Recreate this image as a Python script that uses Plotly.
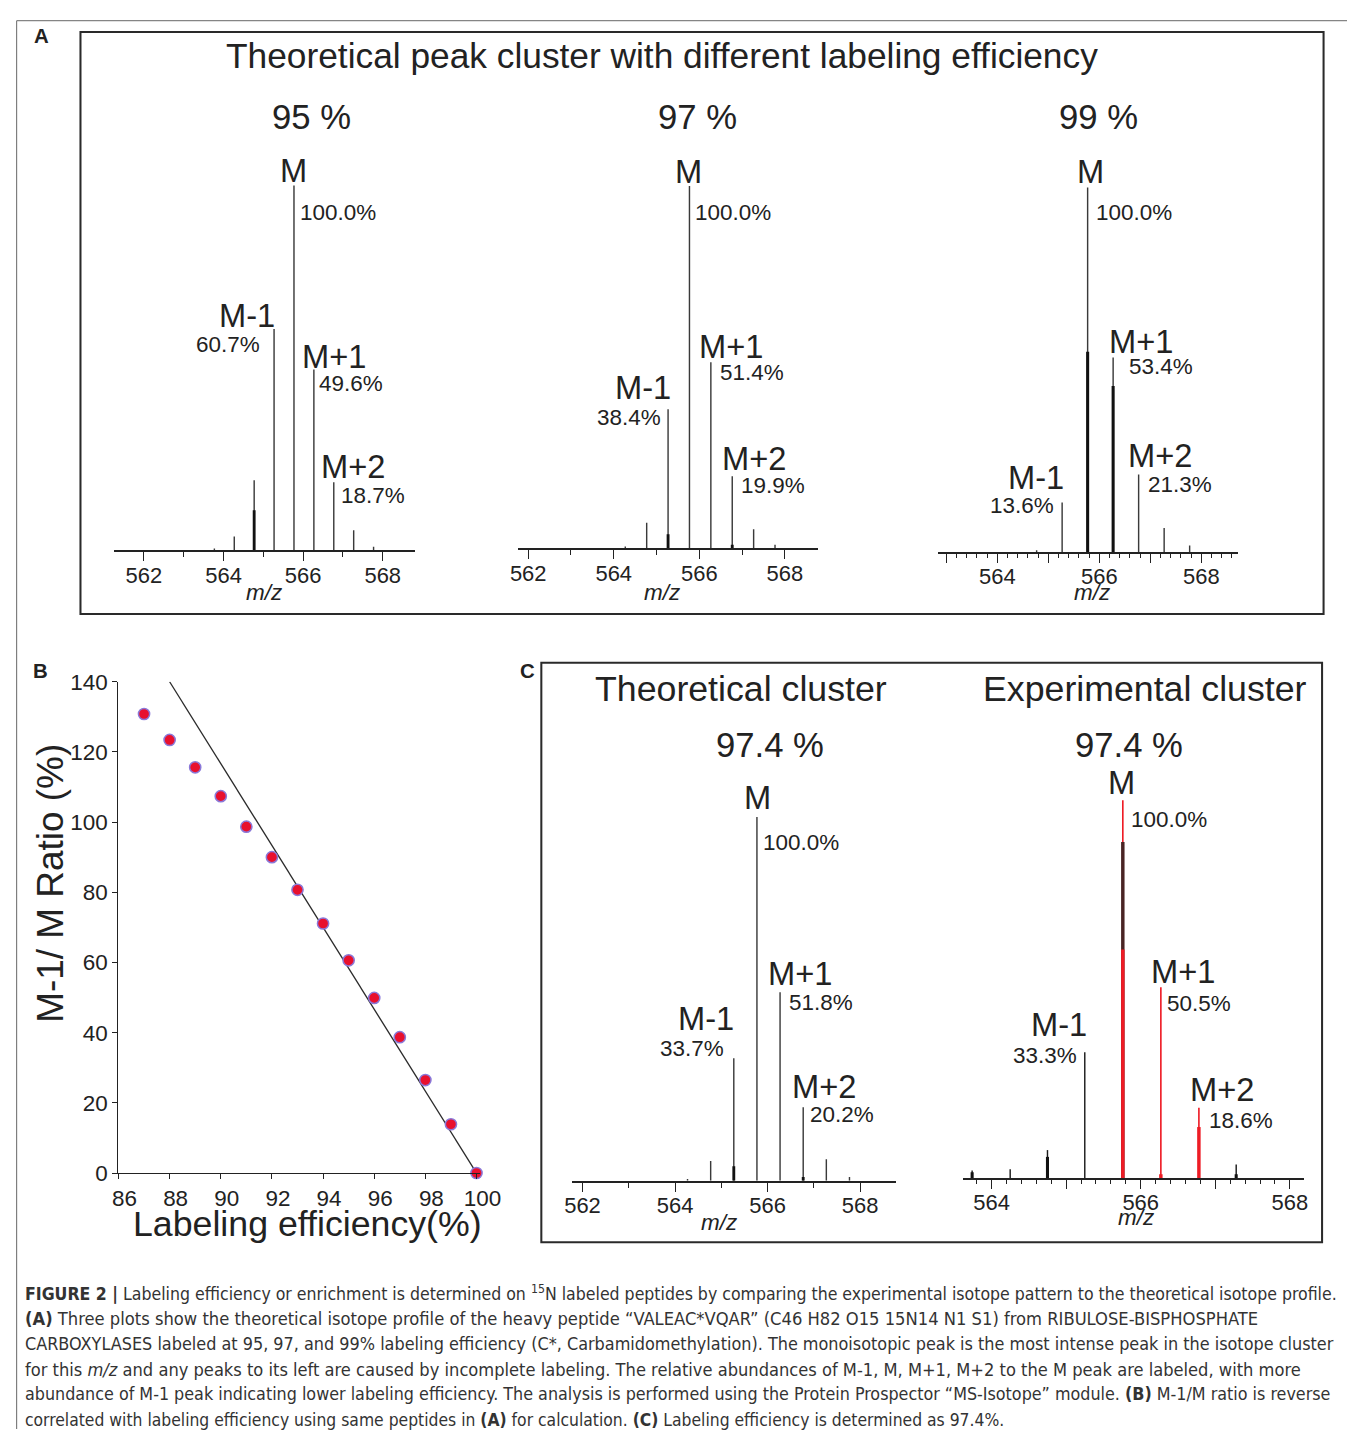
import plotly.graph_objects as go

# Mapping from reference-picture pixels to figure pixels, calibrated from earlier renders
# (the photographed page is slightly reduced and offset).
X_SCALE, X_OFF = 0.979, 15.5
Y_SCALE, Y_OFF = 0.98, 21.0
K = 1 / 0.98
W, H = 1360, 1434
FONT = "Liberation Sans, Arial, Helvetica, sans-serif"
CAP_FONT = "Liberation Sans Narrow, DejaVu Sans Condensed, Liberation Sans, sans-serif"
TXT = "#222222"
STICK = "#3a3a3a"
RED = "#ee1c25"


def px(x):
    return max(0.0, min(1.0, ((x - X_OFF) / X_SCALE) / W))


def py(y):
    return max(0.0, min(1.0, 1 - ((y - Y_OFF) / Y_SCALE) / H))


def fs(size):
    return round(size * K, 2)


# ---------------- DATA ----------------
# Panel A: theoretical isotope clusters (relative intensity, % of M)
a95_mz = [563.77, 564.27, 564.77, 565.27, 565.77, 566.27, 566.77, 567.27, 567.77]
a95_int = [0.5, 3.8, 19.2, 60.7, 100.0, 49.6, 18.7, 5.5, 1.0]
a95_thick_mz = [564.77]
a95_thick_int = [11.0]

a97_mz = [564.27, 564.77, 565.27, 565.77, 566.27, 566.77, 567.27, 567.77]
a97_int = [0.5, 7.1, 38.4, 100.0, 51.4, 19.9, 5.3, 1.0]
a97_thick_mz = [565.27, 566.77]
a97_thick_int = [3.9, 1.0]

a99_mz = [564.77, 565.27, 565.77, 566.27, 566.77, 567.27, 567.77]
a99_int = [0.5, 13.6, 100.0, 53.4, 21.3, 6.6, 1.8]
a99_thick_mz = [565.77, 566.27]
a99_thick_int = [55.0, 45.6]

peak_names = ["M-1", "M", "M+1", "M+2"]
label_mz = [565.27, 565.77, 566.27, 566.77]
a95_labels = [60.7, 100.0, 49.6, 18.7]
a97_labels = [38.4, 100.0, 51.4, 19.9]
a99_labels = [13.6, 100.0, 53.4, 21.3]
efficiency_titles = ["95 %", "97 %", "99 %"]

# Panel B: M-1/M ratio vs labeling efficiency
eff = [87, 88, 89, 90, 91, 92, 93, 94, 95, 96, 97, 98, 99, 100]
ratio = [130.8, 123.4, 115.6, 107.4, 98.7, 90.0, 80.7, 71.1, 60.6, 49.9, 38.7, 26.5, 13.9, 0.0]
fit_x = [88, 100]
fit_y = [140, 0]

# Panel C: theoretical vs experimental cluster at 97.4 %
c_th_mz = [564.27, 564.77, 565.27, 565.77, 566.27, 566.77, 567.27, 567.77]
c_th_int = [0.5, 5.4, 33.7, 100.0, 51.8, 20.2, 5.9, 1.0]
c_th_thick_mz = [565.27, 566.77]
c_th_thick_int = [4.0, 1.0]
c_th_labels = [33.7, 100.0, 51.8, 20.2]

c_exp_black_mz = [563.74, 564.25, 564.75, 565.25, 567.28]
c_exp_black_int = [2.0, 2.3, 7.4, 33.3, 3.6]
c_exp_black_thick_mz = [563.74, 564.75, 567.28]
c_exp_black_thick_int = [1.5, 5.6, 1.0]
c_exp_red_mz = [565.76, 566.27, 566.78]
c_exp_red_int = [100.0, 50.5, 18.6]
c_exp_dark_thick_mz = [565.76]
c_exp_dark_thick_int = [89.0]
c_exp_red_thick_mz = [565.76, 566.27, 566.78]
c_exp_red_thick_int = [60.5, 1.0, 13.5]
c_exp_label_mz = [565.25, 565.76, 566.27, 566.78]
c_exp_labels = [33.3, 100.0, 50.5, 18.6]

# ---------------- STYLE / POSITIONS ----------------
# (name dx, name dy), (pct dx, pct dy) in px relative to peak top (dy>0 = below)
LABEL_OFFSETS = {
    "A95": {"M-1": ((3, -13.5), (-12, 15)), "M": ((0, -15), (4, 26.6)),
            "M+1": ((-14, -13), (3, 13.4)), "M+2": ((-14.6, -15), (5.4, 13.3))},
    "A97": {"M-1": ((4.4, -21.7), (-5, 7.6)), "M": ((-1, -14.7), (3.4, 26)),
            "M+1": ((-13.7, -15.2), (7.3, 10.3)), "M+2": ((-11.7, -17.3), (6.6, 9.4))},
    "A99": {"M-1": ((3.4, -24.3), (-6, 3.2)), "M": ((2.6, -15.3), (6.3, 24)),
            "M+1": ((-6, -15.7), (14, 9)), "M+2": ((-12.7, -18.2), (7.3, 10.2))},
    "C_th": {"M-1": ((2.4, -39), (-7.6, -9.2)), "M": ((0.6, -19), (4, 24.7)),
             "M+1": ((-14, -18.7), (6.6, 10.3)), "M+2": ((-13.3, -20), (4.3, 7.5))},
    "C_exp": {"M-1": ((4, -27.4), (-5.3, 3)), "M": ((-1, -17.6), (5.6, 19)),
              "M+1": ((-11.4, -15.8), (4.3, 15.5)), "M+2": ((-10.7, -18.4), (7.7, 12.5))},
}

fig = go.Figure()
annotations = []
shapes = []


def sticks(mz, inten):
    xs, ys = [], []
    for m, h in zip(mz, inten):
        xs += [m, m, None]
        ys += [0, h, None]
    return xs, ys


def add_sticks(mz, inten, ax, color, width):
    xs, ys = sticks(mz, inten)
    fig.add_trace(go.Scatter(x=xs, y=ys, mode="lines", xaxis="x" + ax, yaxis="y" + ax,
                             line=dict(color=color, width=width * K), hoverinfo="skip",
                             showlegend=False, cliponaxis=False))


def add_peak_labels(ax, mzs, vals, key):
    offs = LABEL_OFFSETS[key]
    for mz, name, v in zip(mzs, peak_names, vals):
        (ndx, ndy), (pdx, pdy) = offs[name]
        na = "center" if name == "M" else ("right" if name == "M-1" else "left")
        pa = "right" if name == "M-1" else "left"
        annotations.append(dict(x=mz, y=v, xref="x" + ax, yref="y" + ax, text=name,
                                showarrow=False, xanchor=na, yanchor="middle",
                                xshift=ndx * K, yshift=-ndy * K,
                                font=dict(family=FONT, size=fs(32), color=TXT)))
        annotations.append(dict(x=mz, y=v, xref="x" + ax, yref="y" + ax, text=f"{v:.1f}%",
                                showarrow=False, xanchor=pa, yanchor="middle",
                                xshift=pdx * K, yshift=-pdy * K,
                                font=dict(family=FONT, size=fs(22), color=TXT)))


def text(xp, yp, s, size, bold=False, anchor="center", angle=0, family=FONT, color=TXT):
    annotations.append(dict(x=px(xp), y=py(yp), xref="paper", yref="paper",
                            text=f"<b>{s}</b>" if bold else s, showarrow=False,
                            xanchor=anchor, yanchor="middle", textangle=angle,
                            font=dict(family=family, size=fs(size), color=color)))


def spec_xaxis(x0, x1, rng, tickvals, ticktext, minor_vals, minor_len):
    return dict(domain=[px(x0), px(x1)], range=rng, showline=True, linecolor=TXT,
                linewidth=1.6 * K, ticks="outside", ticklen=9 * K, tickwidth=1.4 * K,
                tickcolor=TXT, tickmode="array", tickvals=tickvals, ticktext=ticktext,
                ticklabelstandoff=-5,
                tickfont=dict(family=FONT, size=fs(21.5), color=TXT), showgrid=False,
                zeroline=False, fixedrange=True,
                minor=dict(tickvals=minor_vals, ticks="outside", ticklen=minor_len * K,
                           tickwidth=1.2 * K, tickcolor=TXT, showgrid=False))


def spec_yaxis(ax, yb, yt):
    return dict(domain=[py(yb), py(yt)], range=[0, 105], visible=False,
                fixedrange=True, anchor="x" + ax)


even_vals = [562, 564, 566, 568]
even_text = ["562", "564", "566", "568"]
odd_vals = [563, 565, 567]
fine_A3 = [round(563 + 0.2 * i, 1) for i in range(29) if (i % 5) != 0]
fine_C2 = [round(563.6 + 0.2 * i, 1) for i in range(23) if round(563.6 + 0.2 * i, 1) % 1 != 0]

layout_axes = {}
# A1
layout_axes["xaxis"] = spec_xaxis(114, 415, [561.26, 568.82], even_vals, even_text, odd_vals, 5)
layout_axes["yaxis"] = spec_yaxis("", 550, 168)
# A2
layout_axes["xaxis2"] = spec_xaxis(518, 818, [561.77, 568.78], even_vals, even_text, odd_vals, 5)
layout_axes["yaxis2"] = spec_yaxis("2", 548, 168.6)
# A3
layout_axes["xaxis3"] = spec_xaxis(938, 1238, [562.84, 568.72],
                                   [563, 564, 565, 566, 567, 568],
                                   [" ", "564", " ", "566", " ", "568"], fine_A3, 4)
layout_axes["yaxis3"] = spec_yaxis("3", 551.7, 170)
# C1
layout_axes["xaxis5"] = spec_xaxis(572, 896, [561.78, 568.78], even_vals, even_text, odd_vals, 5)
layout_axes["yaxis5"] = spec_yaxis("5", 1178.7, 797.9)
# C2
layout_axes["xaxis6"] = spec_xaxis(963, 1304, [563.62, 568.19],
                                   [564, 565, 566, 567, 568],
                                   ["564", " ", "566", " ", "568"], fine_C2, 4)
layout_axes["yaxis6"] = spec_yaxis("6", 1176, 780.5)
for k in ["xaxis", "xaxis2", "xaxis3", "xaxis5", "xaxis6"]:
    suffix = k.replace("xaxis", "")
    layout_axes[k]["anchor"] = "y" + suffix

# B
layout_axes["xaxis4"] = dict(domain=[px(118), px(480)], range=[86, 100.15], anchor="y4",
                             showline=True, linecolor=TXT, linewidth=1.4 * K, ticks="outside",
                             ticklen=5 * K, tickcolor=TXT, dtick=2, tick0=86,
                             ticklabelshift=6,
                             tickfont=dict(family=FONT, size=fs(22), color=TXT),
                             showgrid=False, zeroline=False, fixedrange=True)
layout_axes["yaxis4"] = dict(domain=[py(1171), py(681)], range=[0, 140], anchor="x4",
                             showline=True, linecolor=TXT, linewidth=1.4 * K, ticks="outside",
                             ticklen=5 * K, tickcolor=TXT, dtick=20,
                             tickfont=dict(family=FONT, size=fs(22), color=TXT),
                             showgrid=False, zeroline=False, fixedrange=True)

# ---- traces: panel A ----
add_sticks(a95_mz, a95_int, "", STICK, 1.4)
add_sticks(a95_thick_mz, a95_thick_int, "", "#111111", 2.8)
add_sticks(a97_mz, a97_int, "2", STICK, 1.4)
add_sticks(a97_thick_mz, a97_thick_int, "2", "#111111", 2.8)
add_sticks(a99_mz, a99_int, "3", STICK, 1.4)
add_sticks(a99_thick_mz, a99_thick_int, "3", "#111111", 3.0)
add_peak_labels("", label_mz, a95_labels, "A95")
add_peak_labels("2", label_mz, a97_labels, "A97")
add_peak_labels("3", label_mz, a99_labels, "A99")

# ---- traces: panel B ----
fig.add_trace(go.Scatter(x=fit_x, y=fit_y, mode="lines", xaxis="x4", yaxis="y4",
                         line=dict(color="#2a2a2a", width=1.3 * K), hoverinfo="skip",
                         showlegend=False, cliponaxis=False))
fig.add_trace(go.Scatter(x=eff, y=ratio, mode="markers", xaxis="x4", yaxis="y4",
                         marker=dict(size=11 * K, color="#e8102e",
                                     line=dict(color="#8a78d8", width=1.5)),
                         showlegend=False, cliponaxis=False))

# ---- traces: panel C ----
add_sticks(c_th_mz, c_th_int, "5", STICK, 1.4)
add_sticks(c_th_thick_mz, c_th_thick_int, "5", "#111111", 2.8)
add_sticks(c_exp_black_mz, c_exp_black_int, "6", "#1a1a1a", 1.4)
add_sticks(c_exp_black_thick_mz, c_exp_black_thick_int, "6", "#111111", 3.0)
add_sticks(c_exp_red_mz, c_exp_red_int, "6", RED, 1.6)
add_sticks(c_exp_dark_thick_mz, c_exp_dark_thick_int, "6", "#4a2424", 3.4)
add_sticks(c_exp_red_thick_mz, c_exp_red_thick_int, "6", RED, 3.4)
add_peak_labels("5", label_mz, c_th_labels, "C_th")
add_peak_labels("6", c_exp_label_mz, c_exp_labels, "C_exp")

# ---- text ----
text(662, 56, "Theoretical peak cluster with different labeling efficiency", 34.6)
for xc, t in zip([311, 697, 1098], efficiency_titles):
    text(xc, 117.5, t, 34)
for xc in [264, 662, 1092]:
    text(xc, 592, "<i>m/z</i>", 22)
text(719, 1220, "<i>m/z</i>", 22)
text(1136, 1215, "<i>m/z</i>", 22)
text(741, 688.3, "Theoretical cluster", 35)
text(1145, 688.3, "Experimental cluster", 35)
text(770, 744, "97.4 %", 34)
text(1129, 744, "97.4 %", 34)
text(41, 37, "A", 20, bold=True)
text(40, 670, "B", 20, bold=True)
text(527, 670, "C", 20, bold=True)
text(50, 882, "M-1/ M Ratio (%)", 36.2, angle=-90)
text(307, 1222, "Labeling efficiency(%)", 35)

caption_lines = [
    "<b>FIGURE 2 |</b> Labeling efficiency or enrichment is determined on <sup>15</sup>N labeled peptides by comparing the experimental isotope pattern to the theoretical isotope profile.",
    "<b>(A)</b> Three plots show the theoretical isotope profile of the heavy peptide \u201cVALEAC*VQAR\u201d (C46 H82 O15 15N14 N1 S1) from RIBULOSE-BISPHOSPHATE",
    "CARBOXYLASES labeled at 95, 97, and 99% labeling efficiency (C*, Carbamidomethylation). The monoisotopic peak is the most intense peak in the isotope cluster",
    "for this <i>m/z</i> and any peaks to its left are caused by incomplete labeling. The relative abundances of M-1, M, M+1, M+2 to the M peak are labeled, with more",
    "abundance of M-1 peak indicating lower labeling efficiency. The analysis is performed using the Protein Prospector \u201cMS-Isotope\u201d module. <b>(B)</b> M-1/M ratio is reverse",
    "correlated with labeling efficiency using same peptides in <b>(A)</b> for calculation. <b>(C)</b> Labeling efficiency is determined as 97.4%.",
]
caption_sizes = [17.2, 17.85, 17.5, 17.75, 17.4, 17.0]
for i, (line, size) in enumerate(zip(caption_lines, caption_sizes)):
    text(23, 1291 + 25.2 * i, line, size, anchor="left", family=CAP_FONT, color="#333333")

# ---- frames ----
shapes.append(dict(type="rect", xref="paper", yref="paper", x0=px(80), x1=px(1323.5),
                   y0=py(613.5), y1=py(33), line=dict(color="#2a2a2a", width=2 * K)))
shapes.append(dict(type="rect", xref="paper", yref="paper", x0=px(541), x1=px(1322),
                   y0=py(1240), y1=py(662), line=dict(color="#2a2a2a", width=2 * K)))
shapes.append(dict(type="line", xref="paper", yref="paper", x0=0.0005, x1=1,
                   y0=0.9995, y1=0.9995, line=dict(color="#666666", width=1)))
shapes.append(dict(type="line", xref="paper", yref="paper", x0=0.0005, x1=0.0005,
                   y0=0.9995, y1=0, line=dict(color="#666666", width=1)))

fig.update_layout(width=W, height=H, margin=dict(l=0, r=0, t=0, b=0),
                  paper_bgcolor="white", plot_bgcolor="rgba(0,0,0,0)",
                  showlegend=False, annotations=annotations, shapes=shapes,
                  **layout_axes)

fig.write_html("out.html")
